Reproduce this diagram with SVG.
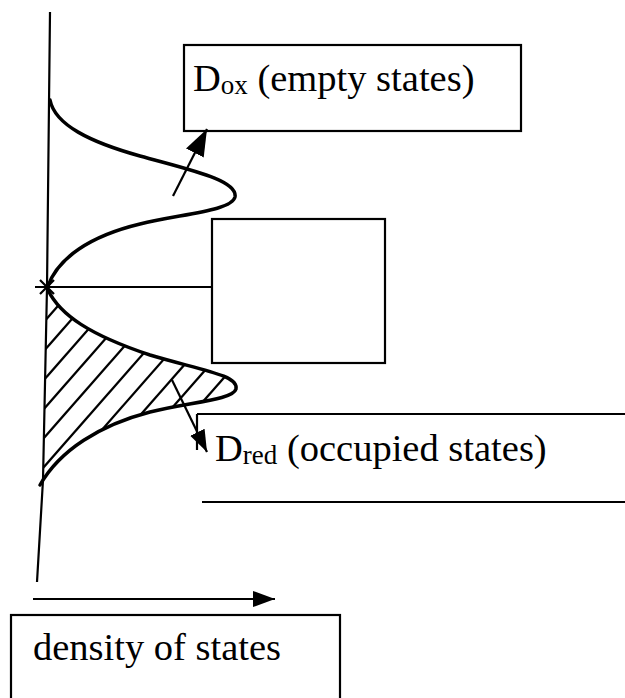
<svg xmlns="http://www.w3.org/2000/svg" width="625" height="698" viewBox="0 0 625 698">
<style>
.ln{fill:none;stroke:#000;stroke-width:2.2}
.curve{fill:none;stroke:#000;stroke-width:3.5;stroke-linecap:round}
.box{fill:#fff;stroke:#000;stroke-width:2.2}
.hatch line{stroke:#000;stroke-width:2.2}
.t{font-family:"Liberation Serif","Times New Roman",serif;font-size:38.5px;fill:#000}
.sub{font-size:27px}
</style>
<defs>
<marker id="ah" markerUnits="userSpaceOnUse" markerWidth="26" markerHeight="20" refX="22" refY="8" orient="auto">
<path d="M0,0 L22,8 L0,16 Z" fill="#000"/>
</marker>
<marker id="ahBig" markerUnits="userSpaceOnUse" markerWidth="30" markerHeight="22" refX="27" refY="10" orient="auto">
<path d="M0,0 L27,10 L0,20 Z" fill="#000"/>
</marker>
<clipPath id="redclip">
<path d="M48,290 C60,315 90,335 150,355 C200,370 238,375 235,389 C232,400 190,402 150,412 C100,425 60,450 40,485 L43,480 L47,287 Z"/>
</clipPath>
</defs>
<g id="axes">
<polyline class="ln" points="50,12 47,287 43,480 37,582" stroke-width="3"/>
<line class="ln" x1="35" y1="287" x2="211" y2="287"/>
<path class="ln" d="M40,280 L54,294 M40,294 L54,280" stroke-width="2.5"/>
</g>
<g id="dox-curve">
<path class="curve" d="M50,100 C55,125 90,142 140,156 C190,170 238,180 235,197 C232,211 180,214 140,224 C90,236 58,258 48,286"/>
</g>
<g id="dred-curve">
<g class="hatch" clip-path="url(#redclip)">
<line x1="0" y1="343" x2="300" y2="1"/>
<line x1="0" y1="372" x2="300" y2="30"/>
<line x1="0" y1="401" x2="300" y2="59"/>
<line x1="0" y1="430" x2="300" y2="88"/>
<line x1="0" y1="459" x2="300" y2="117"/>
<line x1="0" y1="488" x2="300" y2="146"/>
<line x1="0" y1="517" x2="300" y2="175"/>
<line x1="0" y1="546" x2="300" y2="204"/>
<line x1="0" y1="575" x2="300" y2="233"/>
<line x1="0" y1="604" x2="300" y2="262"/>
<line x1="0" y1="633" x2="300" y2="291"/>
<line x1="0" y1="662" x2="300" y2="320"/>
<line x1="0" y1="691" x2="300" y2="349"/>
<line x1="0" y1="720" x2="300" y2="378"/>
<line x1="0" y1="749" x2="300" y2="407"/>
</g>
<path class="curve" d="M48,290 C60,315 90,335 150,355 C200,370 239,375 236,389 C233,400 190,402 150,412 C100,425 60,450 40,485"/>
</g>
<g id="dox-box">
<rect class="box" x="184" y="45" width="337" height="86"/>
<text class="t" x="193" y="91">D<tspan class="sub" dy="3">ox</tspan><tspan dy="-3"> (empty states)</tspan></text>
</g>
<g id="mid-box">
<rect class="box" x="212" y="219" width="173" height="144"/>
</g>
<g id="dred-box">
<line class="ln" x1="197" y1="414" x2="625" y2="414"/>
<line class="ln" x1="197" y1="414" x2="197" y2="450"/>
<line class="ln" x1="202" y1="502" x2="625" y2="502"/>
<text class="t" x="215" y="461">D<tspan class="sub" dy="3">red</tspan><tspan dy="-3"> (occupied states)</tspan></text>
</g>
<g id="dos-box">
<rect class="box" x="11" y="615" width="329" height="100"/>
<text class="t" x="33" y="660">density of states</text>
</g>
<g id="connectors">
<line class="ln" x1="173" y1="196" x2="207" y2="129" stroke-width="3.2" marker-end="url(#ahBig)"/>
<line class="ln" x1="172" y1="380" x2="207" y2="452" marker-end="url(#ah)"/>
<line class="ln" x1="33" y1="599" x2="275" y2="599" marker-end="url(#ah)"/>
</g>
</svg>
